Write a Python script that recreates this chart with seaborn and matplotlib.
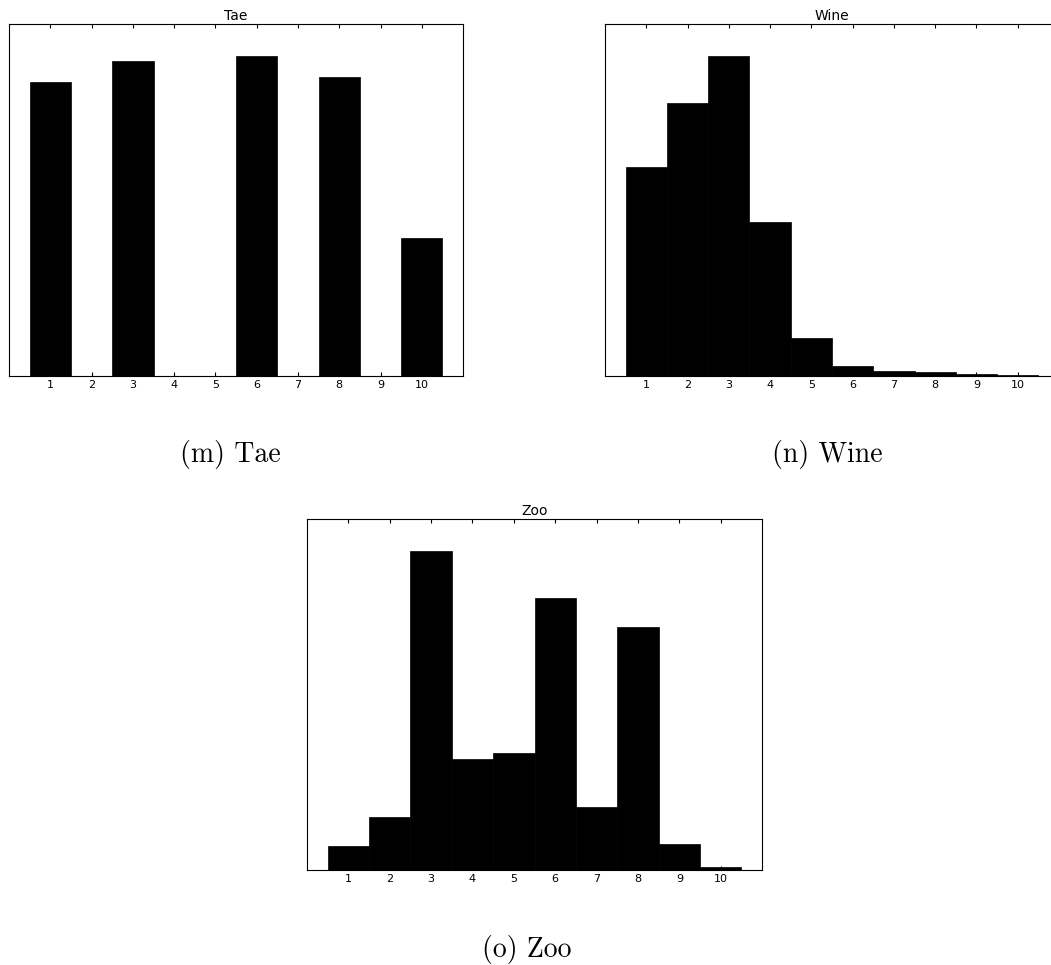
import numpy as np
import matplotlib
matplotlib.use("Agg")
import matplotlib.pyplot as plt
import seaborn as sns

sns.set_theme(style="ticks", context="paper", rc={
	"xtick.direction": "in",
	"xtick.top": True,
	"xtick.major.size": 3,
	"xtick.major.width": 0.8,
	"axes.linewidth": 0.8,
	"axes.edgecolor": "black",
	"text.color": "black",
	"axes.labelcolor": "black",
	"xtick.color": "black",
})
plt.rcParams["font.family"] = ["DejaVu Sans"]

bins = np.arange(1, 11)
tae_vals = [0.921, 0.0, 0.984, 0.0, 0.0, 1.0, 0.0, 0.935, 0.0, 0.431]
wine_vals = [0.654, 0.853, 1.0, 0.481, 0.119, 0.029, 0.016, 0.0116, 0.0044, 0.0022]
zoo_vals = [0.075, 0.166, 1.0, 0.347, 0.366, 0.852, 0.197, 0.761, 0.081, 0.0094]

titles = ["Tae", "Wine", "Zoo"]
captions = ["(m) Tae", "(n) Wine", "(o) Zoo"]

fig = plt.figure(figsize=(10.51, 9.65), dpi=100)

# axes positions measured in figure fractions
boxes = [
	[0.0086, 0.6107, 0.432, 0.364],
	[0.5756, 0.6107, 0.432, 0.364],
	[0.2921, 0.0984, 0.433, 0.3638],
]
cap_pos = [(230 / 1051, (965 - 462) / 965),
	(827 / 1051, (965 - 462) / 965),
	(527 / 1051, (965 - 957) / 965)]

for vals, title, cap, box, cp in zip([tae_vals, wine_vals, zoo_vals], titles, captions, boxes, cap_pos):
	ax = fig.add_axes(box)
	sns.barplot(x=bins, y=vals, native_scale=True, width=1, color="black",
		saturation=1, edgecolor="black", linewidth=0.5, errorbar=None, ax=ax)
	ax.set_xlim(0, 11)
	ax.set_ylim(0, max(vals) * 1.1)
	ax.set_xticks(bins)
	ax.set_xticklabels([str(b) for b in bins], fontsize=8)
	ax.set_yticks([])
	ax.set_xlabel("")
	ax.set_ylabel("")
	ax.tick_params(axis="x", pad=3, colors="black")
	for s in ax.spines.values():
		s.set_visible(True)
		s.set_color("black")
	ax.set_title(title, fontsize=10, pad=3, color="black")
	fig.text(cp[0], cp[1], cap, ha="center", va="baseline", fontsize=20,
		family="cmr10", color="black")

plt.savefig("out.png", dpi=100)
